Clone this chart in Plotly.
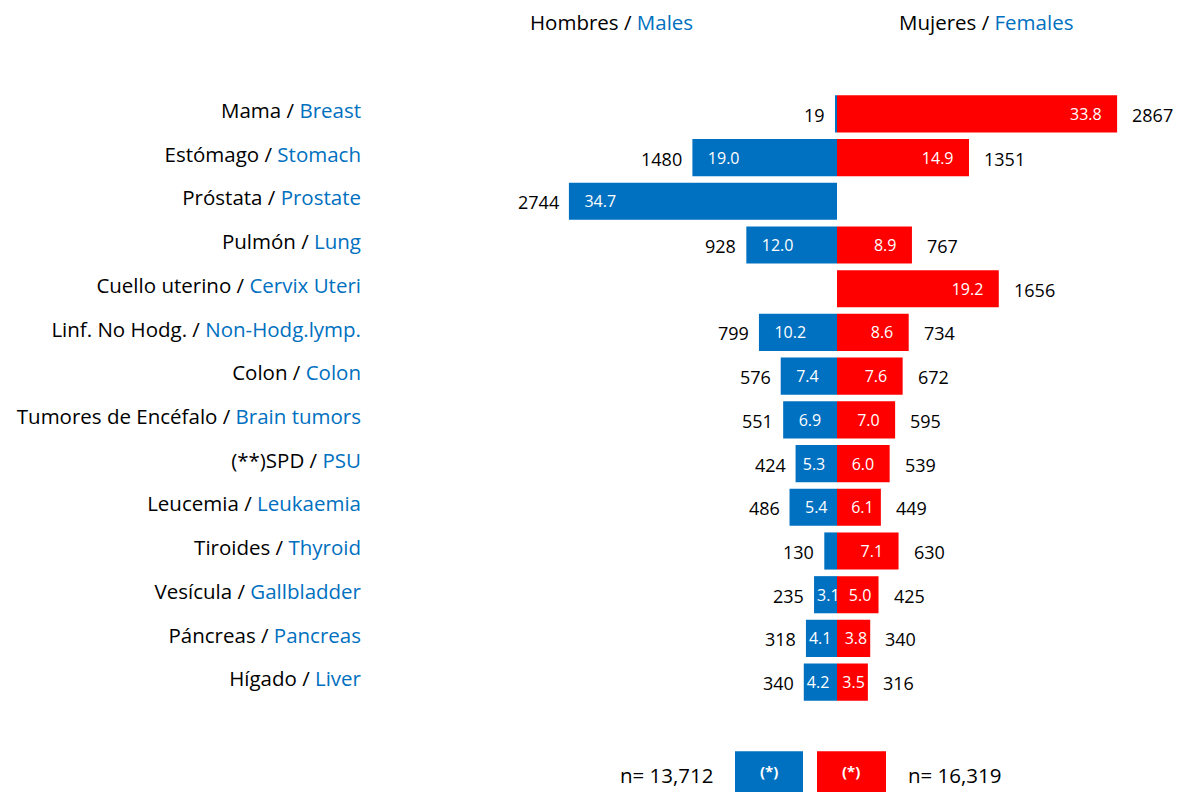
import plotly.graph_objects as go

cats_es = ["Mama", "Estómago", "Próstata", "Pulmón", "Cuello uterino", "Linf. No Hodg.",
           "Colon", "Tumores de Encéfalo", "(**)SPD", "Leucemia", "Tiroides", "Vesícula",
           "Páncreas", "Hígado"]
cats_en = ["Breast", "Stomach", "Prostate", "Lung", "Cervix Uteri", "Non-Hodg.lymp.",
           "Colon", "Brain tumors", "PSU", "Leukaemia", "Thyroid", "Gallbladder",
           "Pancreas", "Liver"]
male_n = [19, 1480, 2744, 928, None, 799, 576, 551, 424, 486, 130, 235, 318, 340]
female_n = [2867, 1351, None, 767, 1656, 734, 672, 595, 539, 449, 630, 425, 340, 316]
male_rate = [None, 19.0, 34.7, 12.0, None, 10.2, 7.4, 6.9, 5.3, 5.4, None, 3.1, 4.1, 4.2]
female_rate = [33.8, 14.9, None, 8.9, 19.2, 8.6, 7.6, 7.0, 6.0, 6.1, 7.1, 5.0, 3.8, 3.5]
total_male = "13,712"
total_female = "16,319"

BLUE = "#0070C0"
RED = "#FF0000"
FONT = "Open Sans"
SCALE = 0.0977  # px per case (bar length)
NB = "\u00a0"


def pad_count(n):
    # inner padding (non-breaking spaces) so that labels sit a little in from the bar end
    w = (n or 0) * SCALE
    if w >= 45:
        return 3
    if w >= 38:
        return 1
    return 0


cats = cats_es
ticktext = [f"{es} / <span style='color:{BLUE}'>{en}</span>" for es, en in zip(cats_es, cats_en)]

male_x = [-v if v is not None else None for v in male_n]
male_txt = [NB * pad_count(n) + f"{r:.1f}" if r is not None else "" for r, n in zip(male_rate, male_n)]
female_txt = [f"{r:.1f}" + NB * pad_count(n) if r is not None else "" for r, n in zip(female_rate, female_n)]

fig = go.Figure()
fig.add_trace(go.Bar(
    y=cats, x=male_x, orientation="h", marker=dict(color=BLUE, line=dict(width=0)),
    text=male_txt, textposition="inside", insidetextanchor="end", constraintext="none",
    textangle=0, textfont=dict(color="white", size=16, family=FONT),
    hoverinfo="skip", showlegend=False,
))
fig.add_trace(go.Bar(
    y=cats, x=female_n, orientation="h", marker=dict(color=RED, line=dict(width=0)),
    text=female_txt, textposition="inside", insidetextanchor="end", constraintext="none",
    textangle=0, textfont=dict(color="white", size=16, family=FONT),
    hoverinfo="skip", showlegend=False,
))

annots = []
# count labels outside the bars (placed at the data values through the axes)
for c, v in zip(cats, male_n):
    if v is not None:
        annots.append(dict(x=-v, y=c, xref="x", yref="y", text=str(v), xanchor="right",
                           xshift=-8, yshift=-1, showarrow=False,
                           font=dict(color="black", size=18, family=FONT)))
for c, v in zip(cats, female_n):
    if v is not None:
        annots.append(dict(x=v, y=c, xref="x", yref="y", text=str(v), xanchor="left",
                           xshift=13, yshift=-1, showarrow=False,
                           font=dict(color="black", size=18, family=FONT)))

L, T, B = 380, 91.6, 88.2
W, H = 1180, 792
ph = H - T - B


def px_x(px):
    return (px - L) / (W - L)


def px_y(py):
    return (H - B - py) / ph


extra = [
    dict(text=f"Hombres / <span style='color:{BLUE}'>Males</span>", x=px_x(611), y=px_y(22)),
    dict(text=f"Mujeres / <span style='color:{BLUE}'>Females</span>", x=px_x(986), y=px_y(22)),
    dict(text=f"n= {total_male}", x=px_x(716), y=px_y(775), xanchor="right"),
    dict(text=f"n= {total_female}", x=px_x(906), y=px_y(775), xanchor="left"),
    dict(text="<b>(*)</b>", x=px_x(769), y=px_y(771), font=dict(color="white", size=15, family=FONT)),
    dict(text="<b>(*)</b>", x=px_x(851), y=px_y(771), font=dict(color="white", size=15, family=FONT)),
]
for a in extra:
    a.setdefault("xanchor", "center")
    a.setdefault("font", dict(color="black", size=20.5, family=FONT))
    a.update(xref="paper", yref="paper", yanchor="middle", showarrow=False)
annots += extra

shapes = [
    dict(type="rect", xref="paper", yref="paper", x0=px_x(735), x1=px_x(803), y0=px_y(795), y1=px_y(751),
         fillcolor=BLUE, line=dict(width=0), layer="above"),
    dict(type="rect", xref="paper", yref="paper", x0=px_x(817), x1=px_x(886), y0=px_y(795), y1=px_y(751),
         fillcolor=RED, line=dict(width=0), layer="above"),
]

fig.update_layout(
    width=W, height=H, margin=dict(l=L, r=0, t=T, b=B, pad=0),
    paper_bgcolor="white", plot_bgcolor="white",
    barmode="relative", bargap=0.15,
    font=dict(family=FONT, size=19, color="black"),
    xaxis=dict(range=[-(837 - L) / SCALE, (W - 837) / SCALE], visible=False, fixedrange=True),
    yaxis=dict(categoryorder="array", categoryarray=cats, range=[13.5, -0.5],
               tickmode="array", tickvals=cats, ticktext=ticktext, showgrid=False,
               zeroline=False, showline=False, ticks="", ticklabelstandoff=18,
               ticklabelshift=3,
               tickfont=dict(family=FONT, size=20.5, color="black"), fixedrange=True),
    annotations=annots, shapes=shapes,
)
fig.write_html("out.html", config={"displayModeBar": False},
               post_script="document.body.style.margin='0';document.body.style.overflow='hidden';")
